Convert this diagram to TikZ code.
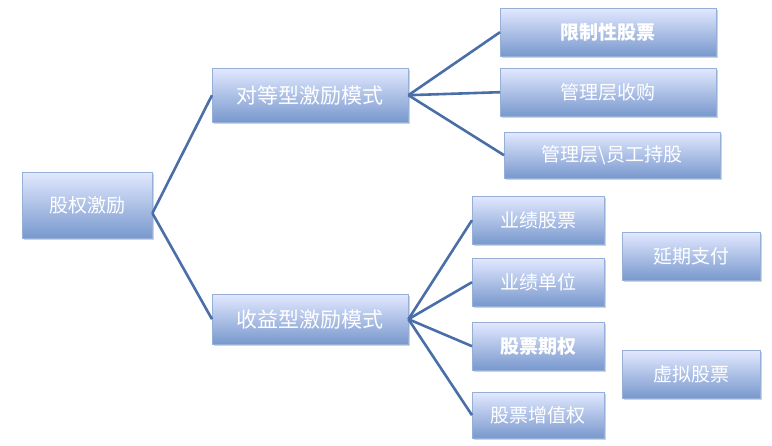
\documentclass[tikz,border=0pt]{standalone}
\usepackage{fontspec}
\newfontfamily\cjk{Noto Sans CJK SC}
\usetikzlibrary{shadows}
\definecolor{ln}{HTML}{4A6FA8}
\tikzset{
  bx/.style={rectangle, top color=blue!5!cyan!10!white!75!blue!35!white, bottom color={rgb,255:red,120;green,152;blue,205}, draw={rgb,255:red,150;green,175;blue,215}, text=white, font=\cjk\fontsize{19}{20}\selectfont, drop shadow={shadow xshift=2pt,shadow yshift=-2pt,opacity=0.35}, inner sep=0pt, anchor=north west},
  cn/.style={ln, line width=2.6pt}
}
\begin{document}
\begin{tikzpicture}[x=1pt,y=-1pt]
\useasboundingbox (0,0) rectangle (772,446);
\node[bx, minimum width=130pt, minimum height=66pt] (root) at (22,172) {股权激励};
\node[bx, minimum width=196pt, minimum height=54pt, font=\cjk\fontsize{21}{22}\selectfont] (a) at (212,68) {对等型激励模式};
\node[bx, minimum width=196pt, minimum height=50pt, font=\cjk\fontsize{21}{22}\selectfont] (b) at (212,294) {收益型激励模式};
\node[bx, minimum width=216pt, minimum height=48pt, font=\cjk\bfseries\fontsize{19}{20}\selectfont] (a1) at (500,8) {限制性股票};
\node[bx, minimum width=216pt, minimum height=48pt] (a2) at (500,68) {管理层收购};
\node[bx, minimum width=216pt, minimum height=46pt] (a3) at (504,132) {管理层\textbackslash 员工持股};
\node[bx, minimum width=132pt, minimum height=48pt] (b1) at (472,196) {业绩股票};
\node[bx, minimum width=132pt, minimum height=48pt] (b2) at (472,258) {业绩单位};
\node[bx, minimum width=132pt, minimum height=48pt, font=\cjk\bfseries\fontsize{19}{20}\selectfont] (b3) at (472,322) {股票期权};
\node[bx, minimum width=132pt, minimum height=46pt] (b4) at (472,392) {股票增值权};
\node[bx, minimum width=138pt, minimum height=48pt] (c1) at (622,232) {延期支付};
\node[bx, minimum width=138pt, minimum height=48pt] (c2) at (622,350) {虚拟股票};
\draw[cn] ([yshift=-8pt]root.east) -- (a.west);
\draw[cn] ([yshift=-8pt]root.east) -- (b.west);
\foreach \t in {a1,a2,a3} \draw[cn] (a.east) -- (\t.west);
\foreach \t in {b1,b2,b3,b4} \draw[cn] (b.east) -- (\t.west);
\end{tikzpicture}
\end{document}
